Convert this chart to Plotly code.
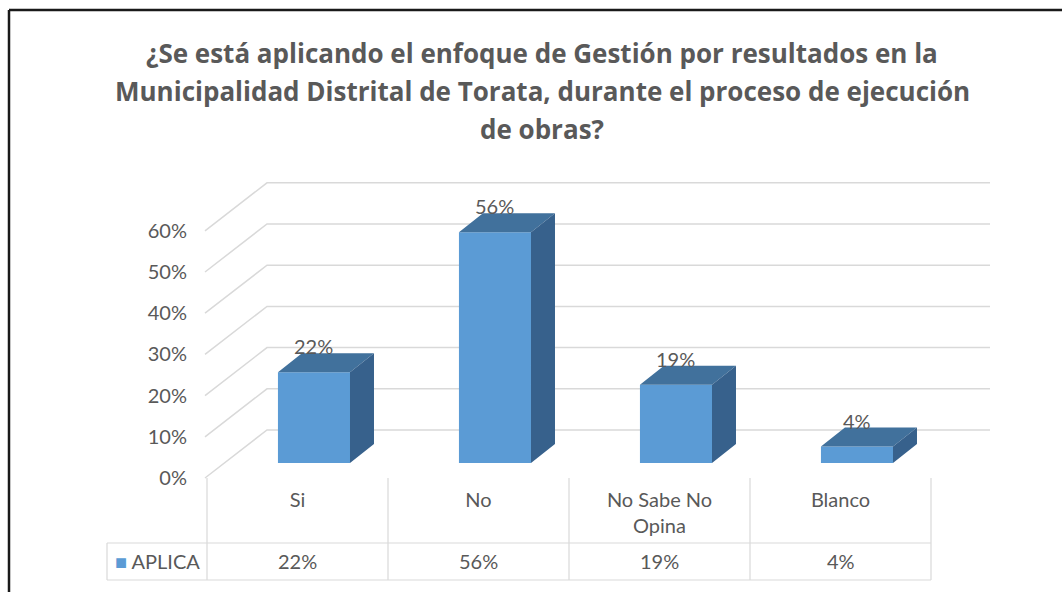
import plotly.graph_objects as go

# ---------------- data ----------------
categories = ["Si", "No", "No Sabe No<br>Opina", "Blanco"]
values = [22, 56, 19, 4]
value_labels = ["22%", "56%", "19%", "4%"]
y_ticks = [0, 10, 20, 30, 40, 50, 60]
y_tick_labels = ["0%", "10%", "20%", "30%", "40%", "50%", "60%"]
series_name = "APLICA"
title_lines = [
    "¿Se está aplicando el enfoque de Gestión por resultados en la",
    "Municipalidad Distrital de Torata, durante el proceso de ejecución",
    "de obras?",
]

# ---------------- layout geometry / style ----------------
W, H = 1062, 592
PX_X = 181.0        # pixels per category step
X_LEFT_PIX = 207.0  # pixel position of x = -0.5
PX_Y = 4.12         # pixels per percentage point
Y0_PIX = 478.0      # pixel position of y = 0 (front plane)

FRONT = "#5B9BD5"
TOP = "#41719C"
SIDE = "#37618C"
GRID = "#D9D9D9"
TXT = "#595959"
FONT = "Lato"
TITLE_FONT = "Open Sans"


def px_to_x(p):
    return -0.5 + (p - X_LEFT_PIX) / PX_X


def py_to_y(p):
    return (Y0_PIX - p) / PX_Y


def py_paper(p):
    return 1 - p / H


x_range = [px_to_x(0), px_to_x(W)]
y_range = [py_to_y(H), py_to_y(0)]

wall_dx = 62 / PX_X
wall_dy = 48 / PX_Y
grid_left = px_to_x(205)
grid_right = px_to_x(990)

bar_offset = -0.108
bar_width = 0.398
bar_base = 15 / PX_Y
depth_dx = 24 / PX_X
depth_dy = 19 / PX_Y

idx = list(range(len(categories)))

fig = go.Figure()

# front faces
fig.add_trace(go.Bar(
    x=idx, y=values, base=bar_base, offset=bar_offset, width=bar_width,
    marker=dict(color=FRONT, line=dict(width=0)), name=series_name,
    showlegend=False, hoverinfo="skip",
))

# top and side faces (computed from values)
tx, ty, sx, sy = [], [], [], []
for i, v in zip(idx, values):
    x0 = i + bar_offset
    x1 = x0 + bar_width
    top = bar_base + v
    tx += [x0, x1, x1 + depth_dx, x0 + depth_dx, x0, None]
    ty += [top, top, top + depth_dy, top + depth_dy, top, None]
    sx += [x1, x1, x1 + depth_dx, x1 + depth_dx, x1, None]
    sy += [bar_base, top, top + depth_dy, bar_base + depth_dy, bar_base, None]

fig.add_trace(go.Scatter(x=tx, y=ty, fill="toself", fillcolor=TOP, mode="lines",
                         line=dict(width=0, color=TOP), showlegend=False, hoverinfo="skip"))
fig.add_trace(go.Scatter(x=sx, y=sy, fill="toself", fillcolor=SIDE, mode="lines",
                         line=dict(width=0, color=SIDE), showlegend=False, hoverinfo="skip"))

shapes = []
# 3D gridlines (side wall + back wall)
for t in y_ticks:
    shapes.append(dict(
        type="path", xref="x", yref="y", layer="below",
        path=f"M {grid_left},{t} L {grid_left + wall_dx},{t + wall_dy} L {grid_right},{t + wall_dy}",
        line=dict(color=GRID, width=1.5),
    ))

# data table lines
tab_top, tab_mid, tab_bot = py_paper(478), py_paper(543), py_paper(580)
tab_left_paper = 107 / W
for k in range(len(categories) + 1):
    xv = -0.5 + k
    shapes.append(dict(type="line", xref="x", yref="paper", x0=xv, x1=xv,
                       y0=tab_top, y1=tab_bot, line=dict(color=GRID, width=1.2)))
for yy in (tab_mid, tab_bot):
    shapes.append(dict(type="line", xref="x", yref="paper", x0=px_to_x(107), x1=len(categories) - 0.5,
                       y0=yy, y1=yy, line=dict(color=GRID, width=1.2)))
shapes.append(dict(type="line", xref="paper", yref="paper", x0=tab_left_paper, x1=tab_left_paper,
                   y0=tab_mid, y1=tab_bot, line=dict(color=GRID, width=1.2)))

# outer frame (left and top edges visible)
shapes.append(dict(type="line", xref="paper", yref="paper", x0=9 / W, x1=9 / W, y0=0, y1=py_paper(10),
                   line=dict(color="#1a1a1a", width=2.5)))
shapes.append(dict(type="line", xref="paper", yref="paper", x0=9 / W, x1=1, y0=py_paper(10), y1=py_paper(10),
                   line=dict(color="#1a1a1a", width=2.5)))

annotations = []
# title
for line, cy in zip(title_lines, [53, 91, 129]):
    annotations.append(dict(text=f"<b>{line}</b>", xref="paper", yref="paper", x=542 / W, y=py_paper(cy),
                            xanchor="center", yanchor="middle", showarrow=False,
                            font=dict(family=TITLE_FONT, size=26, color=TXT)))
# data labels
for i, v, lab in zip(idx, values, value_labels):
    annotations.append(dict(text=lab, xref="x", yref="y", x=i + bar_offset + bar_width / 2, y=bar_base + v,
                            yshift=26, xanchor="center", yanchor="middle", showarrow=False,
                            font=dict(family=FONT, size=20, color=TXT)))
# data table values row
for i, lab in zip(idx, value_labels):
    annotations.append(dict(text=lab, xref="x", yref="paper", x=i, y=py_paper(561),
                            xanchor="center", yanchor="middle", showarrow=False,
                            font=dict(family=FONT, size=20, color=TXT)))
annotations.append(dict(text=f"<span style='color:{FRONT}'>■</span> {series_name}", xref="paper", yref="paper",
                        x=157 / W, y=py_paper(561), xanchor="center", yanchor="middle", showarrow=False,
                        font=dict(family=FONT, size=20, color=TXT)))

fig.update_layout(
    width=W, height=H,
    margin=dict(l=0, r=0, t=0, b=0),
    paper_bgcolor="white", plot_bgcolor="white",
    showlegend=False,
    shapes=shapes, annotations=annotations,
    font=dict(family=FONT, size=20, color=TXT),
    xaxis=dict(range=x_range, domain=[0, 1], showgrid=False, zeroline=False, showline=False,
               tickmode="array", tickvals=idx, ticktext=categories, ticks="",
               anchor="free", position=py_paper(Y0_PIX), ticklabelstandoff=8,
               tickfont=dict(family=FONT, size=20, color=TXT), fixedrange=True),
    yaxis=dict(range=y_range, domain=[0, 1], showgrid=False, zeroline=False, showline=False,
               tickmode="array", tickvals=y_ticks, ticktext=y_tick_labels, ticks="",
               anchor="free", position=205 / W, ticklabelstandoff=18,
               tickfont=dict(family=FONT, size=20, color=TXT), fixedrange=True),
)

fig.write_html("out.html", config={"displayModeBar": False},
               post_script="document.body.style.margin='0';")
